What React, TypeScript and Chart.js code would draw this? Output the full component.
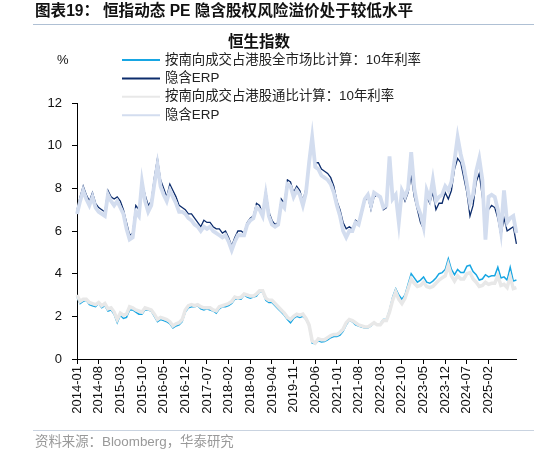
import React, { useEffect, useRef } from 'react';
import Chart from 'chart.js/auto';

// monthly categories 2014-01 .. 2025-11
const months: string[] = [];
for (let y = 2014; y <= 2025; y++) {
  for (let m = 1; m <= 12; m++) {
    if (y === 2025 && m > 11) break;
    months.push(`${y}-${String(m).padStart(2, '0')}`);
  }
}

const tickLabels = [
  '2014-01', '2014-08', '2015-03', '2015-10', '2016-05', '2016-12', '2017-07',
  '2018-02', '2018-09', '2019-04', '2019-11', '2020-06', '2021-01', '2021-08',
  '2022-03', '2022-10', '2023-05', '2023-12', '2024-07', '2025-02',
];

const yTicks = [0, 2, 4, 6, 8, 10, 12];

// 隐含ERP (按南向成交占港股全市场比计算)
const erpMarket = [
  7.0, 7.6, 8.1, 7.7, 7.4, 7.8, 7.3, 7.1, 7.0, 6.9, 7.9, 7.6,
  7.5, 7.6, 7.4, 7.0, 6.4, 5.8, 5.9, 7.2, 7.0, 8.3, 7.7, 7.2,
  7.4, 8.5, 9.4, 8.4, 8.0, 7.6, 8.2, 7.9, 7.6, 7.2, 7.1, 7.0,
  6.8, 6.8, 6.6, 6.4, 6.2, 6.5, 6.4, 6.4, 6.2, 6.1, 6.1, 5.9,
  6.0, 5.7, 5.3, 5.7, 6.0, 6.0, 5.9, 6.4, 6.6, 6.7, 7.3, 7.2,
  6.8, 7.9, 6.9, 6.5, 6.3, 6.4, 7.5, 7.3, 8.4, 8.3, 7.8, 8.1,
  7.9, 7.4, 8.0, 9.3, 10.3, 9.2, 9.2, 8.9, 8.8, 8.7, 8.5, 8.1,
  7.4, 7.0, 6.4, 6.1, 6.2, 6.1, 6.5, 6.4, 6.8, 7.4, 7.6, 7.0,
  7.6, 7.7, 7.6, 7.0, 7.1, 9.4, 7.5, 7.6, 6.5, 7.8, 7.4, 7.8,
  8.6, 7.6, 7.0, 6.4, 6.1, 7.6, 7.3, 7.8, 7.0, 7.3, 7.3, 7.8,
  7.5, 7.9, 8.9, 9.4, 9.2, 8.5, 7.8, 6.7, 7.2, 8.3, 8.7, 7.6,
  6.6, 7.0, 7.2, 7.1, 6.6, 5.8, 6.6, 6.0, 6.1, 6.2, 5.4,
];

// 隐含ERP (按南向成交占港股通比计算)
const erpConnect = [
  6.8, 7.4, 7.9, 7.5, 7.2, 7.6, 7.1, 6.9, 6.8, 6.7, 7.7, 7.4,
  7.2, 7.4, 7.1, 6.8, 6.1, 5.6, 5.7, 6.9, 6.7, 8.3, 7.4, 6.9,
  7.2, 8.2, 9.1, 8.1, 7.7, 7.4, 7.9, 7.6, 7.3, 6.9, 6.9, 6.8,
  6.6, 6.5, 6.3, 6.2, 6.0, 6.2, 6.1, 6.2, 6.0, 5.9, 5.8, 5.7,
  5.8, 5.5, 5.1, 5.5, 5.8, 5.8, 5.8, 6.3, 6.5, 6.6, 7.1, 7.0,
  6.7, 7.7, 6.7, 6.3, 6.2, 6.3, 7.3, 7.1, 8.2, 8.1, 7.6, 7.9,
  7.7, 7.2, 7.8, 9.2, 10.4, 9.0, 8.9, 8.6, 8.5, 8.4, 8.2, 7.8,
  7.2, 6.7, 6.0, 5.7, 6.0, 6.0, 6.4, 6.3, 6.9, 7.5, 7.7, 7.2,
  7.8, 7.7, 7.6, 7.1, 7.2, 9.5, 7.5, 7.7, 6.4, 7.9, 7.6, 8.0,
  9.7, 8.0, 7.2, 6.8, 6.2, 7.9, 7.5, 8.4, 7.4, 7.6, 7.7, 8.1,
  7.9, 8.3, 9.3, 10.4, 9.6, 9.0, 8.2, 7.3, 7.7, 8.8, 9.4, 8.4,
  5.6, 7.6, 7.7, 7.6, 7.0, 6.0, 7.9, 6.4, 6.6, 6.7, 5.9,
];

// 10年利率 (按南向成交占港股全市场比计算)
const rateMarket = [
  2.9, 2.6, 2.7, 2.75, 2.55, 2.5, 2.45, 2.6, 2.4, 2.5, 2.25, 2.3,
  2.1, 1.7, 2.05, 1.9, 1.95, 2.3, 2.3, 2.2, 2.1, 2.1, 2.3, 2.3,
  2.25, 2.0, 1.75, 1.85, 1.8, 1.75, 1.65, 1.45, 1.55, 1.6, 1.75, 2.2,
  2.4, 2.45, 2.45, 2.5, 2.35, 2.3, 2.35, 2.3, 2.25, 2.15, 2.35, 2.45,
  2.45, 2.5, 2.6, 2.8, 2.8, 2.8, 3.0, 2.9, 2.85, 2.9, 2.95, 3.15,
  3.15, 2.75, 2.65, 2.65, 2.5, 2.35, 2.2, 2.05, 1.85, 1.7, 1.9, 2.0,
  1.95, 2.0, 1.85, 1.55, 0.75, 0.72, 0.85, 0.8, 0.82, 0.9, 1.0, 1.05,
  1.05, 1.12, 1.3, 1.6, 1.8, 1.75, 1.6, 1.55, 1.5, 1.45, 1.45, 1.55,
  1.7, 1.6, 1.65, 1.85, 1.85, 2.3, 2.9, 3.3, 3.0, 2.8, 3.0, 3.5,
  4.0, 3.8, 3.6, 3.7, 3.85, 3.6, 3.55, 3.65, 3.8, 4.0, 4.05, 4.2,
  4.7, 4.2, 3.95, 4.2, 4.05, 4.05, 4.35, 4.4, 4.1, 3.95, 3.7, 3.75,
  3.95, 3.85, 3.9, 3.9, 4.3, 3.8, 3.85, 3.7, 4.3, 3.65, 3.7,
];

// 10年利率 (按南向成交占港股通比计算)
const rateConnect = [
  3.0, 2.7, 2.8, 2.8, 2.65, 2.6, 2.55, 2.65, 2.5, 2.6, 2.35, 2.4,
  2.2, 1.85, 2.15, 2.05, 2.1, 2.45, 2.4, 2.3, 2.25, 2.2, 2.4, 2.35,
  2.3, 2.1, 1.85, 1.95, 1.9, 1.85, 1.75, 1.55, 1.65, 1.7, 1.85, 2.3,
  2.5, 2.55, 2.5, 2.55, 2.45, 2.4, 2.4, 2.4, 2.3, 2.25, 2.45, 2.5,
  2.55, 2.6, 2.7, 2.9, 2.85, 2.9, 3.05, 3.0, 2.95, 2.95, 3.05, 3.2,
  3.2, 2.85, 2.75, 2.75, 2.6, 2.45, 2.3, 2.15, 1.95, 1.85, 2.0, 2.1,
  2.05, 2.1, 1.9, 1.6, 0.85, 0.75, 0.95, 0.9, 0.9, 1.0, 1.1, 1.15,
  1.15, 1.25, 1.4, 1.7, 1.85, 1.8, 1.7, 1.6, 1.55, 1.5, 1.5, 1.6,
  1.7, 1.6, 1.6, 1.8, 1.8, 2.2, 2.75, 3.15, 2.8, 2.6, 2.85, 3.3,
  3.75, 3.55, 3.4, 3.45, 3.6, 3.4, 3.35, 3.4, 3.55, 3.7, 3.8, 3.9,
  4.4, 3.9, 3.65, 3.9, 3.75, 3.75, 4.0, 4.05, 3.75, 3.6, 3.4, 3.45,
  3.6, 3.5, 3.55, 3.55, 3.9, 3.45, 3.5, 3.35, 3.85, 3.3, 3.35,
];

const legendItems = [
  { label: '按南向成交占港股全市场比计算：10年利率', color: '#17A6E3' },
  { label: '隐含ERP', color: '#0C2C6C' },
  { label: '按南向成交占港股通比计算：10年利率', color: '#E8E8E8' },
  { label: '隐含ERP', color: '#D3DDEF' },
];

const FONT = '"Liberation Sans", "Noto Sans CJK SC", sans-serif';

const decorPlugin = {
  id: 'decor',
  afterDraw(chart: Chart) {
    const ctx = chart.ctx;
    ctx.save();
    // headline
    ctx.fillStyle = '#111';
    ctx.textBaseline = 'middle';
    ctx.textAlign = 'left';
    ctx.font = `bold 15.6px ${FONT}`;
    ctx.fillText('图表19：', 35, 12);
    ctx.fillText('恒指动态 PE 隐含股权风险溢价处于较低水平', 103, 12);
    // rules
    ctx.strokeStyle = '#AFC0D4';
    ctx.lineWidth = 1;
    ctx.beginPath();
    ctx.moveTo(33, 24.5);
    ctx.lineTo(534, 24.5);
    ctx.stroke();
    ctx.strokeStyle = '#C9D3E0';
    ctx.beginPath();
    ctx.moveTo(33, 430.5);
    ctx.lineTo(534, 430.5);
    ctx.stroke();
    // chart title
    ctx.textAlign = 'center';
    ctx.font = `bold 15.5px ${FONT}`;
    ctx.fillStyle = '#111';
    ctx.fillText('恒生指数', 259, 43);
    // unit
    ctx.textAlign = 'left';
    ctx.font = `13px ${FONT}`;
    ctx.fillText('%', 57, 60);
    // legend
    ctx.font = `13.4px ${FONT}`;
    legendItems.forEach((it, i) => {
      const y = 60 + i * 18.4;
      ctx.strokeStyle = it.color;
      ctx.lineWidth = 2;
      ctx.beginPath();
      ctx.moveTo(122, y);
      ctx.lineTo(160, y);
      ctx.stroke();
      ctx.fillStyle = '#222';
      ctx.fillText(it.label, 165, y);
    });
    // source
    ctx.fillStyle = '#999';
    ctx.font = `13.4px ${FONT}`;
    ctx.fillText('资料来源：Bloomberg，华泰研究', 35, 442);
    ctx.restore();
  },
};

const App: React.FC = () => {
  const chartRef = useRef<HTMLCanvasElement>(null);

  useEffect(() => {
    if (!chartRef.current) return;
    const ctx = chartRef.current.getContext('2d');
    if (!ctx) return;

    const isMajor = (i: number) => tickLabels.includes(months[i]);

    const chartInstance = new Chart(ctx, {
      type: 'line',
      data: {
        labels: months,
        datasets: [
          {
            label: legendItems[0].label,
            data: rateMarket,
            borderColor: legendItems[0].color,
            borderWidth: 1.5,
            order: 2,
          },
          {
            label: legendItems[1].label,
            data: erpMarket,
            borderColor: legendItems[1].color,
            borderWidth: 1.3,
            order: 2,
          },
          {
            label: legendItems[2].label,
            data: rateConnect,
            borderColor: legendItems[2].color,
            borderWidth: 3.5,
            order: 1,
          },
          {
            label: legendItems[3].label,
            data: erpConnect,
            borderColor: legendItems[3].color,
            borderWidth: 3.8,
            order: 1,
          },
        ],
      },
      options: {
        responsive: false,
        animation: false,
        layout: { padding: { top: 103, right: 17, left: 0, bottom: 0 } },
        elements: { point: { radius: 0 }, line: { tension: 0 } },
        plugins: {
          legend: { display: false },
          tooltip: { enabled: false },
        },
        scales: {
          x: {
            type: 'category',
            offset: false,
            afterFit: (scale: any) => {
              scale.height = 97;
            },
            border: { display: true, color: '#000', width: 1 },
            grid: {
              drawOnChartArea: false,
              drawTicks: true,
              tickLength: 5,
              tickColor: (c: any) => (isMajor(c.index) ? '#000' : 'rgba(0,0,0,0)'),
            },
            ticks: {
              autoSkip: false,
              maxRotation: 90,
              minRotation: 90,
              padding: 2,
              color: '#111',
              font: { family: FONT, size: 13 },
              callback: (_v: any, i: number) => (isMajor(i) ? months[i] : ''),
            },
          },
          y: {
            min: 0,
            max: 12,
            afterFit: (scale: any) => {
              scale.width = 77;
            },
            afterBuildTicks: (scale: any) => {
              scale.ticks = yTicks.map((v) => ({ value: v }));
            },
            border: { display: true, color: '#000', width: 1 },
            grid: {
              drawOnChartArea: false,
              drawTicks: true,
              tickLength: 5,
              color: '#000',
            },
            ticks: {
              padding: 10,
              color: '#111',
              font: { family: FONT, size: 13 },
            },
          },
        },
      },
      plugins: [decorPlugin],
    });

    return () => {
      chartInstance.destroy();
    };
  }, []);

  return (
    <div style={{ position: 'fixed', left: 0, top: 0, width: 534, height: 456, background: '#fff' }}>
      <canvas ref={chartRef} width={534} height={456} />
    </div>
  );
};

export default App;
